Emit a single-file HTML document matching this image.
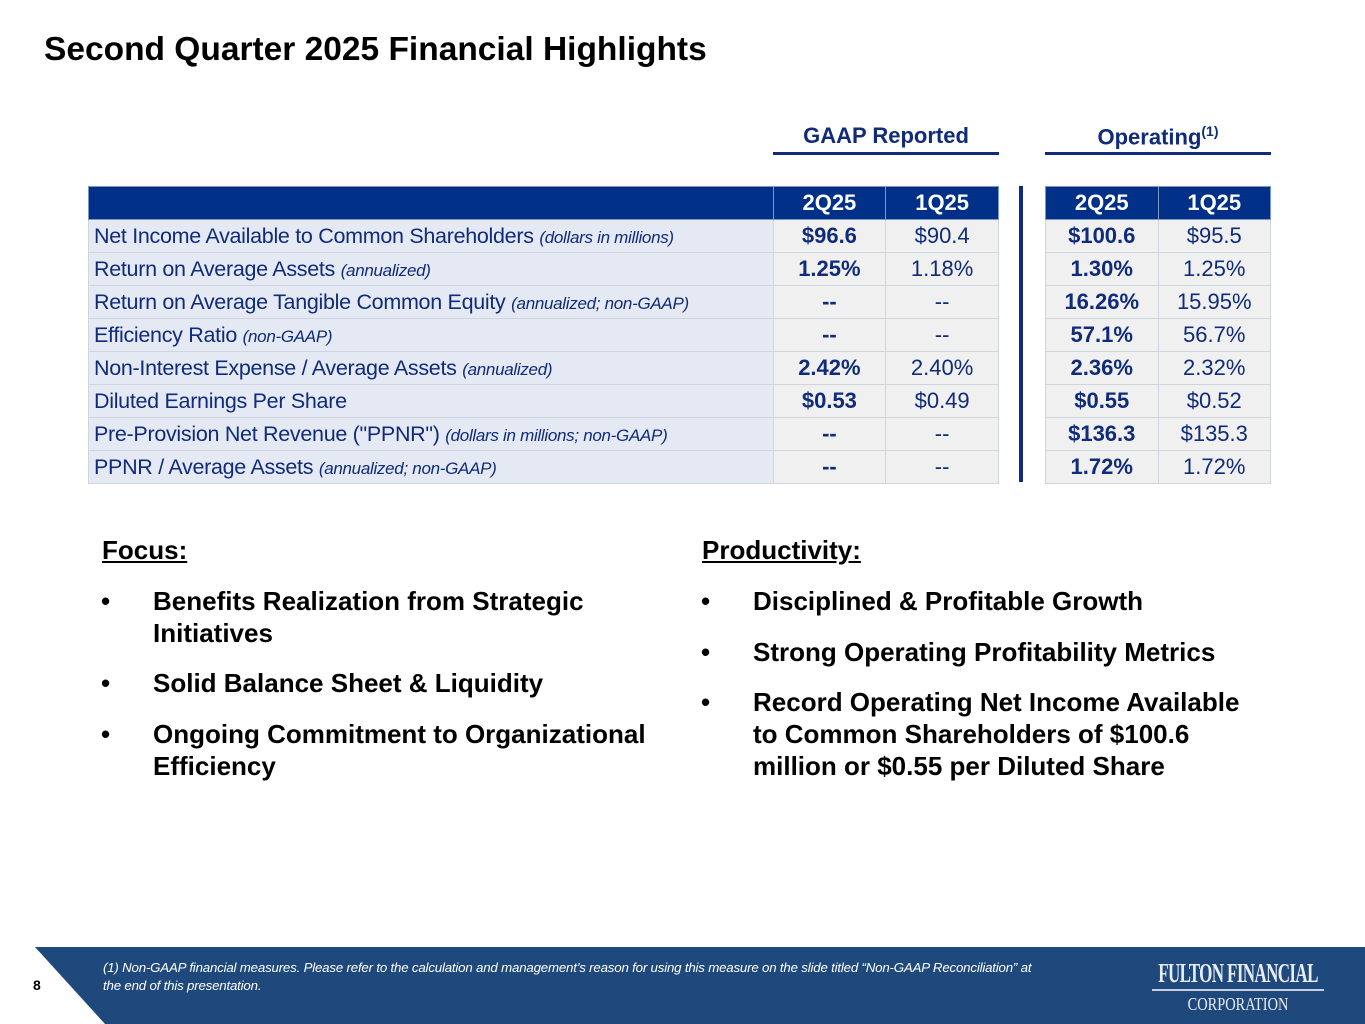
<!DOCTYPE html>
<html><head><meta charset="utf-8"><style>
body{margin:0;width:1365px;height:1024px;background:#fff;position:relative;overflow:hidden;font-family:"Liberation Sans",sans-serif;color:#0f2b7a}
.abs{position:absolute}
.title{left:44px;top:31px;font-size:33.5px;font-weight:bold;color:#000}
.grp{font-size:22px;font-weight:bold;color:#0f2b7a;text-align:center}
.uline{height:3px;background:#0f2b7a}
table{position:absolute;border-collapse:collapse;top:186px}
td,th{height:32px;padding:0;border:1px solid #d0d4de;font-size:22px;text-align:center;white-space:nowrap}
th{background:#003087;color:#fff;font-weight:bold;border-color:#7f95c4}
td.l{text-align:left;padding-left:5px;background:#e4e9f4;font-size:21.5px;letter-spacing:-0.3px}
td.v{background:#f0f0f0}
td.b{font-weight:bold}
i{font-size:17px}
.sec{font-size:26px;font-weight:bold;color:#000;text-decoration:underline}
.bul{font-size:26px;font-weight:bold;color:#000;line-height:32px}
.dot{position:absolute;left:-52px}
</style></head><body>
<div class="abs title">Second Quarter 2025 Financial Highlights</div>

<div class="abs grp" style="left:773px;top:123px;width:226px">GAAP Reported</div>
<div class="abs uline" style="left:773px;top:152px;width:226px"></div>
<div class="abs grp" style="left:1045px;top:123px;width:226px">Operating<sup style="font-size:14px">(1)</sup></div>
<div class="abs uline" style="left:1045px;top:152px;width:226px"></div>
<div class="abs" style="left:1019px;top:186px;width:4px;height:296px;background:#0f2b7a"></div>

<table style="left:88px;width:911px">
<tr><th style="width:684px"></th><th style="width:112px">2Q25</th><th style="width:112px">1Q25</th></tr>
<tr><td class="l">Net Income Available to Common Shareholders <i>(dollars in millions)</i></td><td class="v b">$96.6</td><td class="v">$90.4</td></tr>
<tr><td class="l">Return on Average Assets <i>(annualized)</i></td><td class="v b">1.25%</td><td class="v">1.18%</td></tr>
<tr><td class="l">Return on Average Tangible Common Equity <i>(annualized; non-GAAP)</i></td><td class="v b">--</td><td class="v">--</td></tr>
<tr><td class="l">Efficiency Ratio <i>(non-GAAP)</i></td><td class="v b">--</td><td class="v">--</td></tr>
<tr><td class="l">Non-Interest Expense / Average Assets <i>(annualized)</i></td><td class="v b">2.42%</td><td class="v">2.40%</td></tr>
<tr><td class="l">Diluted Earnings Per Share</td><td class="v b">$0.53</td><td class="v">$0.49</td></tr>
<tr><td class="l">Pre-Provision Net Revenue ("PPNR") <i>(dollars in millions; non-GAAP)</i></td><td class="v b">--</td><td class="v">--</td></tr>
<tr><td class="l">PPNR / Average Assets <i>(annualized; non-GAAP)</i></td><td class="v b">--</td><td class="v">--</td></tr>
</table>

<table style="left:1045px;width:226px">
<tr><th style="width:113px">2Q25</th><th style="width:113px">1Q25</th></tr>
<tr><td class="v b">$100.6</td><td class="v">$95.5</td></tr>
<tr><td class="v b">1.30%</td><td class="v">1.25%</td></tr>
<tr><td class="v b">16.26%</td><td class="v">15.95%</td></tr>
<tr><td class="v b">57.1%</td><td class="v">56.7%</td></tr>
<tr><td class="v b">2.36%</td><td class="v">2.32%</td></tr>
<tr><td class="v b">$0.55</td><td class="v">$0.52</td></tr>
<tr><td class="v b">$136.3</td><td class="v">$135.3</td></tr>
<tr><td class="v b">1.72%</td><td class="v">1.72%</td></tr>
</table>

<div class="abs sec" style="left:102px;top:535px">Focus:</div>
<div class="abs bul" style="left:153px;top:585px;width:480px"><span class="dot">•</span>Benefits Realization from Strategic Initiatives</div>
<div class="abs bul" style="left:153px;top:667px;width:520px"><span class="dot">•</span>Solid Balance Sheet &amp; Liquidity</div>
<div class="abs bul" style="left:153px;top:718px;width:530px"><span class="dot">•</span>Ongoing Commitment to Organizational Efficiency</div>

<div class="abs sec" style="left:702px;top:535px">Productivity:</div>
<div class="abs bul" style="left:753px;top:585px;width:540px"><span class="dot">•</span>Disciplined &amp; Profitable Growth</div>
<div class="abs bul" style="left:753px;top:636px;width:540px"><span class="dot">•</span>Strong Operating Profitability Metrics</div>
<div class="abs bul" style="left:753px;top:686px;width:505px"><span class="dot">•</span>Record Operating Net Income Available to Common Shareholders of $100.6 million or $0.55 per Diluted Share</div>

<svg class="abs" style="left:0;top:947px" width="1365" height="77"><polygon points="35,0 1365,0 1365,77 105,77" fill="#1f497d"/></svg>
<div class="abs" style="left:33px;top:977px;font-size:14px;font-weight:bold;color:#000">8</div>
<div class="abs" style="left:103px;top:959px;width:1020px;font-size:13.3px;font-style:italic;color:#fff;line-height:18px;letter-spacing:-0.2px">(1) Non-GAAP financial measures.  Please refer to the calculation and management’s reason for using this measure on the slide titled “Non-GAAP Reconciliation” at<br>the end of this presentation.</div>
<div class="abs" style="left:1148px;top:958px;width:180px;text-align:center;color:#e8ecf4;font-family:'Liberation Serif',serif">
<div style="font-size:27px;font-weight:bold;letter-spacing:-1px;transform:scaleX(0.63);white-space:nowrap;margin-left:-40px;margin-right:-40px">FULTON FINANCIAL</div>
<div style="height:2px;background:#c8d0e0;margin:0 4px 3px"></div>
<div style="font-size:18px;transform:scaleX(0.8)">CORPORATION</div></div>
</body></html>
